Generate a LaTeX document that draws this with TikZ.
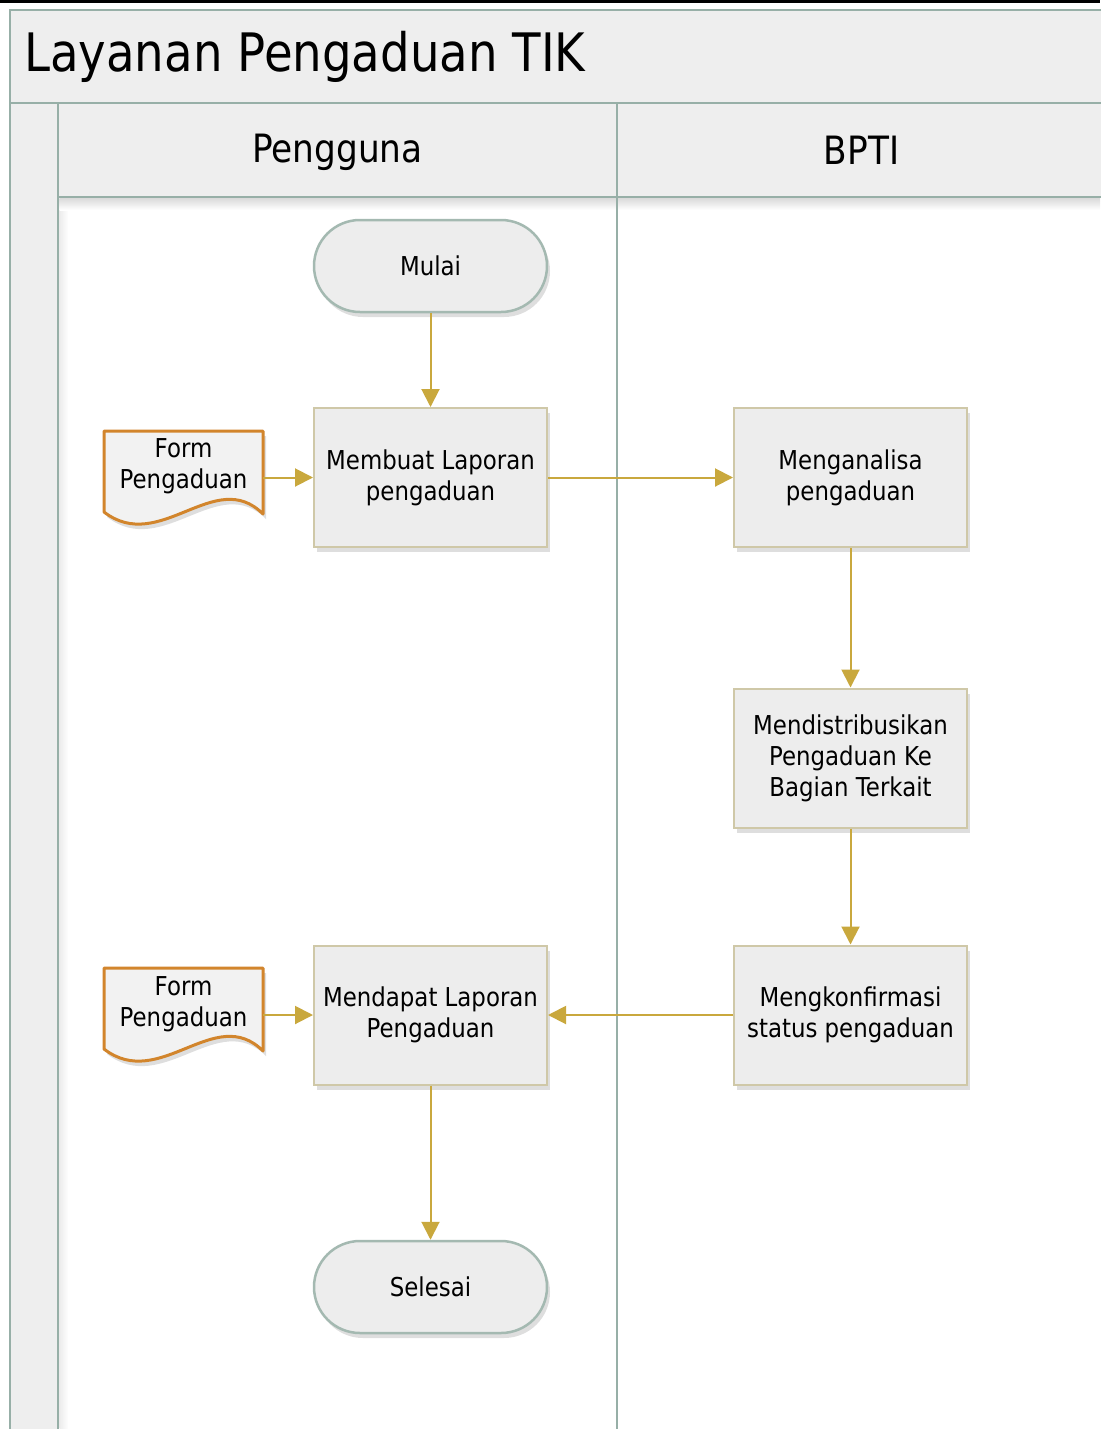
\documentclass[tikz,border=0pt]{standalone}
\usepackage{fontspec}
\setmainfont{DejaVu Sans}[FakeStretch=0.88]
\usetikzlibrary{arrows.meta,shadows}
\definecolor{lanec}{HTML}{97AFA7}
\definecolor{bandfill}{HTML}{EEEEEE}
\definecolor{arrowc}{HTML}{C9A83D}
\definecolor{boxline}{HTML}{CFC8A8}
\definecolor{boxfill}{HTML}{EDEDED}
\definecolor{termline}{HTML}{A4B9B1}
\definecolor{docline}{HTML}{D2852C}
\definecolor{docfill}{HTML}{F2F2F2}
\tikzset{
  softshadow/.style={drop shadow={shadow xshift=3pt,shadow yshift=-5pt,fill=black,opacity=0.13}},
  proc/.style={draw=boxline,line width=2pt,fill=boxfill,minimum width=233pt,minimum height=139pt,
    align=center,inner sep=0pt,font=\fontsize{26}{31}\selectfont,softshadow},
  term/.style={draw=termline,line width=2.5pt,fill=boxfill,rounded corners=46pt,minimum width=233pt,
    minimum height=92pt,align=center,inner sep=0pt,font=\fontsize{26}{31}\selectfont,softshadow},
  doctext/.style={align=center,inner sep=0pt,minimum width=159pt,minimum height=66pt,font=\fontsize{26}{31}\selectfont},
  docshape/.style={draw=docline,line width=3pt,fill=docfill,line join=round,softshadow},
  flow/.style={draw=arrowc,line width=2pt,-{Triangle[length=18pt,width=18pt]}},
  laneline/.style={draw=lanec,line width=2.5pt},
  band/.style={fill=bandfill,draw=lanec,line width=2.5pt},
}
\begin{document}
\begin{tikzpicture}[x=1pt,y=-1pt]
\useasboundingbox (0,0) rectangle (1100,1429);
\fill[white] (0,0) rectangle (1100,1429);
\fill[black] (0,0) rectangle (1100,3);
% pool frame
\path[band] (10,10) rectangle (1112,103);
\node[anchor=west,inner sep=0pt,font=\fontsize{53}{60}\selectfont] (title) at (24,57) {Layanan Pengaduan TIK};
\path[band] (10,103) rectangle (58,1440);
\shade[left color=black!12,right color=white,opacity=0.6] (59.5,197) rectangle (68,1429);
\path[band] (58,103) rectangle (617,197);
\path[band] (617,103) rectangle (1112,197);
\shade[top color=black!14,bottom color=white] (59.5,198.5) rectangle (1100,210);
\draw[laneline] (617,197) -- (617,1440);
\draw[laneline] (58,197) -- (58,1440);
\node[font=\fontsize{39}{44}\selectfont,inner sep=0pt] (h1) at (337.5,152) {Pengguna};
\node[font=\fontsize{39}{44}\selectfont,inner sep=0pt] (h2) at (861.5,150) {BPTI};
% documents
\foreach \oy in {0,537}{
  \begin{scope}[shift={(0,\oy)}]
    \path[docshape] (104,431) -- (263,431) -- (263,514)
      .. controls (215,466) and (160,555) .. (104,512) -- cycle;
  \end{scope}
}
\node[doctext] (f1) at (183.5,466) {Form\\Pengaduan};
\node[doctext] (f2) at (183.5,1004) {Form\\Pengaduan};
% process nodes
\node[term] (mulai) at (430.5,266) {Mulai};
\node[proc] (mb) at (430.5,477.5) {Membuat Laporan\\pengaduan};
\node[proc] (ma) at (850.5,477.5) {Menganalisa\\pengaduan};
\node[proc] (md) at (850.5,758) {Mendistribusikan\\Pengaduan Ke\\Bagian Terkait};
\node[proc] (mk) at (850.5,1015) {Mengkonfirmasi\\status pengaduan};
\node[proc] (mp) at (430.5,1015) {Mendapat Laporan\\Pengaduan};
\node[term] (sel) at (430.5,1287) {Selesai};
% connectors
\draw[flow] (mulai) -- (mb);
\draw[flow] (f1.east |- mb) -- (mb.west);
\draw[flow] (mb) -- (ma);
\draw[flow] (ma) -- (md);
\draw[flow] (md) -- (mk);
\draw[flow] (mk) -- (mp);
\draw[flow] (f2.east |- mp) -- (mp.west);
\draw[flow] (mp) -- (sel);
\end{tikzpicture}
\end{document}
